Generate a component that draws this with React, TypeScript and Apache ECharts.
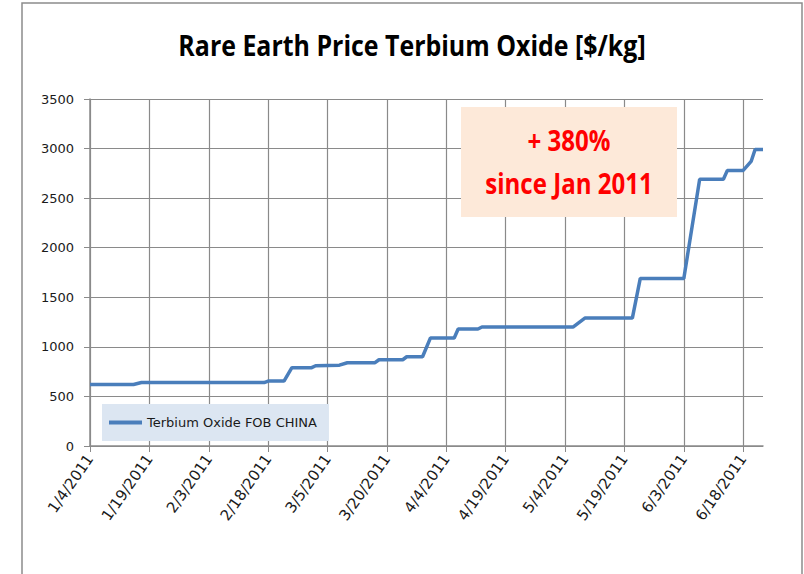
import React, { useEffect, useRef } from "react";
import * as echarts from "echarts";

// Day offsets from 1/4/2011 (x positions on the date axis) and prices [$/kg]
const START_DATE = Date.UTC(2011, 0, 4);
const DAY_COUNT = 171; // 1/4/2011 .. 6/23/2011
const categories: string[] = Array.from({ length: DAY_COUNT }, (_, i) => {
  const d = new Date(START_DATE + i * 86400000);
  return `${d.getUTCMonth() + 1}/${d.getUTCDate()}/${d.getUTCFullYear()}`;
});

const pointDays = [0, 11, 13, 44, 45, 49, 51, 56, 57, 63, 65, 72, 73, 79, 80, 84, 86, 92, 93, 98, 99, 122, 125, 137, 139, 150, 154, 160, 161, 165, 167, 168, 170];
const pointValues = [620, 620, 640, 640, 655, 655, 790, 790, 810, 815, 840, 840, 870, 870, 900, 900, 1090, 1090, 1180, 1180, 1200, 1200, 1290, 1290, 1690, 1690, 2690, 2690, 2780, 2780, 2870, 2990, 2990];

const seriesName = "Terbium Oxide FOB CHINA";
const titleText = "Rare Earth Price Terbium Oxide [$/kg]";
const noteLines = ["+ 380%", "since Jan 2011"];

const TITLE_FONT = '"Open Sans", "DejaVu Sans", sans-serif';
const LABEL_FONT = '"DejaVu Sans", "Noto Sans", sans-serif';
const GRID_COLOR = "#8a8a8a";

export default function App() {
  const ref = useRef<HTMLDivElement>(null);
  useEffect(() => {
    if (!ref.current) return;
    const chart = echarts.init(ref.current, undefined, { renderer: "svg" });
    const showEvery15 = (i: number) => i % 15 === 0;
    chart.setOption({
      animation: false,
      backgroundColor: "#ffffff",
      grid: { left: 90, top: 99, width: 673, height: 347, outerBoundsMode: "none", containLabel: false },
      legend: {
        data: [{ name: seriesName, icon: "rect" }],
        left: 102,
        top: 404,
        backgroundColor: "#DCE6F2",
        padding: [11, 12, 11, 7],
        itemWidth: 33,
        itemHeight: 4,
        itemGap: 5,
        textStyle: { fontSize: 13, color: "#1a1a1a", fontFamily: LABEL_FONT, lineHeight: 15 },
      },
      xAxis: {
        type: "category",
        data: categories,
        boundaryGap: false,
        axisLine: { show: true, lineStyle: { color: GRID_COLOR, width: 1.5 } },
        axisTick: { show: true, interval: showEvery15, length: 6, lineStyle: { color: GRID_COLOR } },
        splitLine: { show: true, interval: showEvery15, lineStyle: { color: GRID_COLOR, width: 1.2 } },
        axisLabel: {
          interval: showEvery15,
          rotate: 55,
          margin: 10,
          fontSize: 15,
          color: "#1a1a1a",
          fontFamily: LABEL_FONT,
        },
      },
      yAxis: {
        type: "value",
        min: 0,
        max: 3500,
        interval: 500,
        axisLine: { show: true, lineStyle: { color: GRID_COLOR, width: 1.5 } },
        axisTick: { show: true, length: 6, lineStyle: { color: GRID_COLOR } },
        splitLine: { show: true, lineStyle: { color: GRID_COLOR, width: 1.2 } },
        axisLabel: {
          margin: 16,
          fontSize: 13,
          color: "#1a1a1a",
          fontFamily: LABEL_FONT,
          formatter: (v: number) => String(v),
        },
      },
      series: [
        {
          name: seriesName,
          type: "line",
          symbol: "none",
          showSymbol: false,
          lineStyle: { color: "#4A7EBB", width: 3.5 },
          itemStyle: { color: "#4A7EBB" },
          data: pointDays.map((d, i) => [categories[d], pointValues[i]]),
        },
      ],
      graphic: [
        {
          type: "rect",
          shape: { x: 22, y: 3, width: 780, height: 600 },
          style: { fill: "none", stroke: "#8c8c8c", lineWidth: 1.5 },
          silent: true,
        },
        {
          type: "text",
          x: 412,
          y: 45,
          scaleX: 0.86,
          style: {
            text: titleText,
            font: `bold 29px ${TITLE_FONT}`,
            fill: "#000000",
            align: "center",
            verticalAlign: "middle",
          },
        },
        {
          type: "rect",
          shape: { x: 461, y: 107, width: 216, height: 110 },
          style: { fill: "#FDE9D9" },
          z: 10,
        },
        {
          type: "text",
          x: 569,
          y: 140,
          z: 11,
          scaleX: 0.86,
          style: {
            text: noteLines[0],
            font: `bold 28px ${TITLE_FONT}`,
            fill: "#FF0000",
            align: "center",
            verticalAlign: "middle",
          },
        },
        {
          type: "text",
          x: 569,
          y: 183,
          z: 11,
          scaleX: 0.86,
          style: {
            text: noteLines[1],
            font: `bold 28px ${TITLE_FONT}`,
            fill: "#FF0000",
            align: "center",
            verticalAlign: "middle",
          },
        },
      ],
    });
    return () => chart.dispose();
  }, []);
  return (
    <div
      ref={ref}
      style={{ position: "absolute", left: 0, top: 0, width: 804, height: 574 }}
    />
  );
}
